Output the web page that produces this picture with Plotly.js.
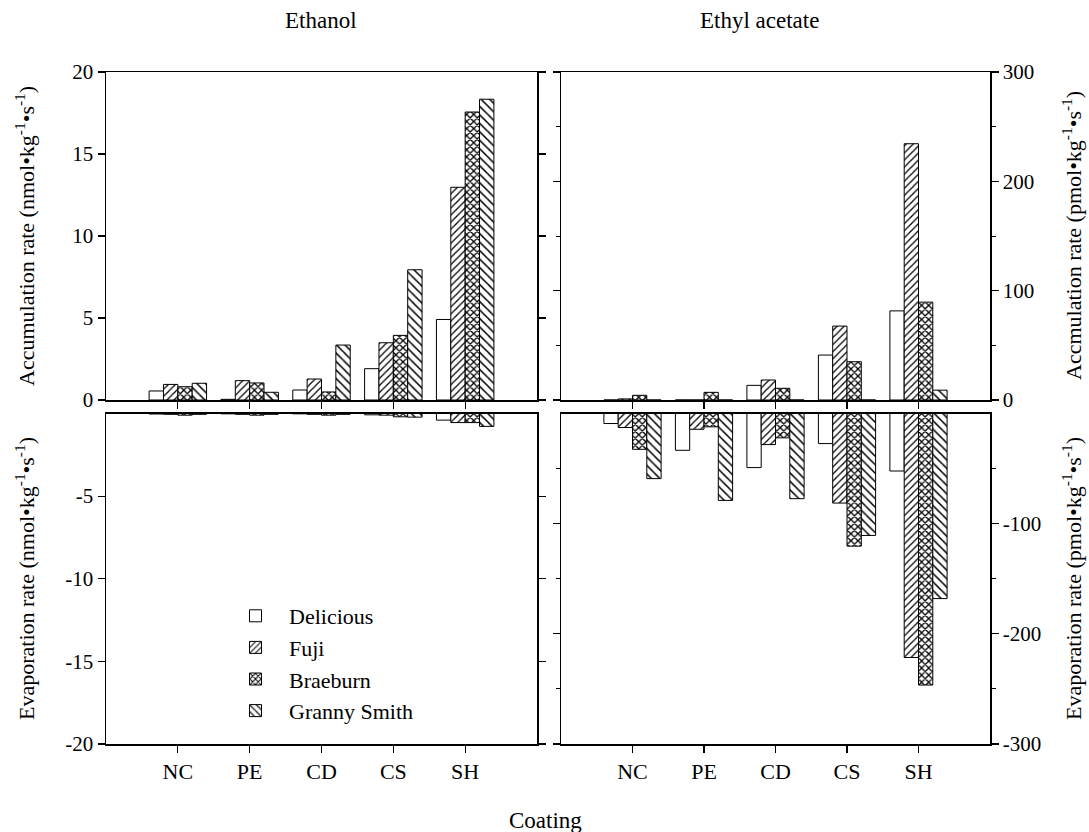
<!DOCTYPE html>
<html>
<head>
<meta charset="utf-8">
<script src="https://cdn.plot.ly/plotly-3.0.1.min.js"></script>
<style>html,body{margin:0;padding:0;background:#fff}#chart{width:1089px;height:832px}</style>
</head>
<body>
<div id="chart"></div>
<script>
// Categories (coatings) and cultivars
const categories = ['NC', 'PE', 'CD', 'CS', 'SH'];
const cultivars = ['Delicious', 'Fuji', 'Braeburn', 'Granny Smith'];

// Ethanol accumulation rate (nmol kg-1 s-1)
const ethAccDelicious = [0.55, 0.04, 0.61, 1.91, 4.91];
const ethAccFuji      = [0.95, 1.18, 1.28, 3.49, 12.97];
const ethAccBraeburn  = [0.81, 1.04, 0.49, 3.94, 17.56];
const ethAccGranny    = [1.02, 0.47, 3.35, 7.94, 18.34];

// Ethanol evaporation rate (nmol kg-1 s-1)
const ethEvapDelicious = [-0.03, -0.02, -0.02, -0.08, -0.40];
const ethEvapFuji      = [-0.05, -0.05, -0.05, -0.10, -0.55];
const ethEvapBraeburn  = [-0.10, -0.10, -0.10, -0.20, -0.55];
const ethEvapGranny    = [-0.05, -0.05, -0.05, -0.22, -0.78];

// Ethyl acetate accumulation rate (pmol kg-1 s-1)
const eaAccDelicious = [0, 0, 13.4, 41.1, 81.5];
const eaAccFuji      = [1, 0, 18.3, 67.6, 234.4];
const eaAccBraeburn  = [4.3, 7.0, 10.7, 35.0, 89.5];
const eaAccGranny    = [0, 0, 0, 0, 9.0];

// Ethyl acetate evaporation rate (pmol kg-1 s-1)
const eaEvapDelicious = [-9.1, -33.4, -49.1, -27.3, -52.2];
const eaEvapFuji      = [-12.7, -14.3, -28.2, -81.3, -221.5];
const eaEvapBraeburn  = [-32.5, -12.1, -22.1, -120.4, -246.5];
const eaEvapGranny    = [-59.1, -78.9, -77.3, -110.7, -168.0];

// Tick values and labels
const leftTopTicks = [0, 5, 10, 15, 20];
const leftTopLabels = ['0', '5', '10', '15', '20'];
const leftBotTicks = [-20, -15, -10, -5];
const leftBotLabels = ['-20', '-15', '-10', '-5'];
const rightTopTicks = [0, 100, 200, 300];
const rightTopLabels = ['0', '100', '200', '300'];
const rightBotTicks = [-300, -200, -100];
const rightBotLabels = ['-300', '-200', '-100'];
const rightBotMinor = [-250, -150, -50];

const FONT = 'Liberation Serif, Times New Roman, serif';

const patterns = [
  {shape: '', fgcolor: 'black', bgcolor: 'white'},
  {shape: '/', fgcolor: 'black', bgcolor: 'white', size: 5, solidity: 0.25},
  {shape: 'x', fgcolor: 'black', bgcolor: 'white', size: 5, solidity: 0.45},
  {shape: '\\', fgcolor: 'black', bgcolor: 'white', size: 6, solidity: 0.25}
];

function mk(vals, i, xa, ya, legend) {
  return {
    type: 'bar', x: categories, y: vals, name: cultivars[i],
    xaxis: xa, yaxis: ya, showlegend: legend, legendgroup: cultivars[i],
    marker: {color: 'white', line: {color: 'black', width: 1}, pattern: patterns[i]},
    hoverinfo: 'x+y+name'
  };
}

const data = [
  mk(ethAccDelicious, 0, 'x', 'y', true),
  mk(ethAccFuji, 1, 'x', 'y', true),
  mk(ethAccBraeburn, 2, 'x', 'y', true),
  mk(ethAccGranny, 3, 'x', 'y', true),
  mk(ethEvapDelicious, 0, 'x2', 'y2', false),
  mk(ethEvapFuji, 1, 'x2', 'y2', false),
  mk(ethEvapBraeburn, 2, 'x2', 'y2', false),
  mk(ethEvapGranny, 3, 'x2', 'y2', false),
  mk(eaAccDelicious, 0, 'x3', 'y3', false),
  mk(eaAccFuji, 1, 'x3', 'y3', false),
  mk(eaAccBraeburn, 2, 'x3', 'y3', false),
  mk(eaAccGranny, 3, 'x3', 'y3', false),
  mk(eaEvapDelicious, 0, 'x4', 'y4', false),
  mk(eaEvapFuji, 1, 'x4', 'y4', false),
  mk(eaEvapBraeburn, 2, 'x4', 'y4', false),
  mk(eaEvapGranny, 3, 'x4', 'y4', false)
];

const W = 1089, H = 832;
const L = 106, R = 990, T = 72, B = 744;
const pw = R - L, ph = B - T;
const px = v => (v - L) / pw;
const py = v => (B - v) / ph;

const leftDom = [0, px(537)];
const rightDom = [px(561), 1];
const topDom = [py(400), 1];
const botDom = [0, py(413.5)];

const axBase = {
  showline: true, linecolor: 'black', linewidth: 1.5,
  showgrid: false, zeroline: false,
  ticks: 'outside', ticklen: 7, tickwidth: 1.2, tickcolor: 'black',
  tickfont: {family: FONT, size: 21, color: 'black'}
};

const xBase = Object.assign({}, axBase, {
  type: 'category', range: [-1, 5], mirror: true, fixedrange: true
});

const layout = {
  width: W, height: H,
  margin: {l: L, r: W - R, t: T, b: H - B},
  paper_bgcolor: 'white', plot_bgcolor: 'white',
  font: {family: FONT, color: 'black'},
  barmode: 'group', bargap: 0.2, bargroupgap: 0,
  showlegend: true,
  legend: {
    x: px(222), y: py(595), xanchor: 'left', yanchor: 'top',
    bgcolor: 'rgba(0,0,0,0)', borderwidth: 0,
    font: {family: FONT, size: 22, color: 'black'},
    itemwidth: 57, tracegroupgap: 4, traceorder: 'normal'
  },
  xaxis: Object.assign({}, xBase, {domain: leftDom, anchor: 'y', showticklabels: false}),
  xaxis2: Object.assign({}, xBase, {domain: leftDom, anchor: 'y2', showticklabels: true, tickfont: {family: FONT, size: 22, color: 'black'}}),
  xaxis3: Object.assign({}, xBase, {domain: rightDom, anchor: 'y3', showticklabels: false}),
  xaxis4: Object.assign({}, xBase, {domain: rightDom, anchor: 'y4', showticklabels: true, tickfont: {family: FONT, size: 22, color: 'black'}}),
  yaxis: Object.assign({}, axBase, {domain: topDom, anchor: 'x', range: [0, 20], tickmode: 'array', tickvals: leftTopTicks, ticktext: leftTopLabels, mirror: 'ticks', fixedrange: true}),
  yaxis2: Object.assign({}, axBase, {domain: botDom, anchor: 'x2', range: [-20, 0], tickmode: 'array', tickvals: leftBotTicks, ticktext: leftBotLabels, mirror: 'ticks', fixedrange: true}),
  yaxis3: Object.assign({}, axBase, {domain: topDom, anchor: 'x3', side: 'right', range: [0, 300], tickmode: 'array', tickvals: rightTopTicks, ticktext: rightTopLabels, mirror: 'ticks', fixedrange: true,
    minor: {dtick: 50, ticks: 'outside', ticklen: 4, tickcolor: 'black', tickwidth: 1}}),
  yaxis4: Object.assign({}, axBase, {domain: botDom, anchor: 'x4', side: 'right', range: [-300, 0], tickmode: 'array', tickvals: rightBotTicks, ticktext: rightBotLabels, mirror: 'ticks', fixedrange: true,
    minor: {tickmode: 'array', tickvals: rightBotMinor, ticks: 'outside', ticklen: 4, tickcolor: 'black', tickwidth: 1}}),
  annotations: [
    {text: 'Ethanol', xref: 'paper', yref: 'paper', x: px(321), y: py(20), xanchor: 'center', yanchor: 'middle', showarrow: false, font: {family: FONT, size: 23, color: 'black'}},
    {text: 'Ethyl acetate', xref: 'paper', yref: 'paper', x: px(759), y: py(20), xanchor: 'center', yanchor: 'middle', showarrow: false, font: {family: FONT, size: 23, color: 'black'}},
    {text: 'Coating', xref: 'paper', yref: 'paper', x: px(545), y: py(820), xanchor: 'center', yanchor: 'middle', showarrow: false, font: {family: FONT, size: 23, color: 'black'}},
    {text: 'Accumulation rate (nmol•kg<sup>-1</sup>•s<sup>-1</sup>)', xref: 'paper', yref: 'paper', x: px(25), y: py(236), xanchor: 'center', yanchor: 'middle', textangle: -90, showarrow: false, font: {family: FONT, size: 22, color: 'black'}},
    {text: 'Evaporation rate (nmol•kg<sup>-1</sup>•s<sup>-1</sup>)', xref: 'paper', yref: 'paper', x: px(25), y: py(579), xanchor: 'center', yanchor: 'middle', textangle: -90, showarrow: false, font: {family: FONT, size: 22, color: 'black'}},
    {text: 'Accmulation rate (pmol•kg<sup>-1</sup>•s<sup>-1</sup>)', xref: 'paper', yref: 'paper', x: px(1072), y: py(236), xanchor: 'center', yanchor: 'middle', textangle: -90, showarrow: false, font: {family: FONT, size: 22, color: 'black'}},
    {text: 'Evaporation rate (pmol•kg<sup>-1</sup>•s<sup>-1</sup>)', xref: 'paper', yref: 'paper', x: px(1072), y: py(579), xanchor: 'center', yanchor: 'middle', textangle: -90, showarrow: false, font: {family: FONT, size: 22, color: 'black'}}
  ]
};

Plotly.newPlot('chart', data, layout, {displayModeBar: false, staticPlot: true});
</script>
</body>
</html>
